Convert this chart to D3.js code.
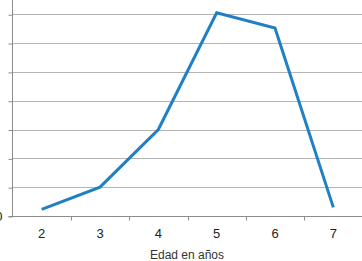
<!DOCTYPE html>
<html>
<head>
<meta charset="utf-8">
<script src="https://cdn.jsdelivr.net/npm/d3@7"></script>
<style>
  body { margin: 0; background: #fff; }
  svg { display: block; font-family: "Liberation Sans", Arial, sans-serif; }
</style>
</head>
<body>
<svg id="chart" width="362" height="261"></svg>
<script>
// data
const ages = ['2', '3', '4', '5', '6', '7'];
const values = [0.23, 1, 3, 7.05, 6.52, 0.3];
const yTicks = [0, 1, 2, 3, 4, 5, 6, 7, 8];
const xTitle = 'Edad en años';

const svg = d3.select('#chart');
const width = 362;

const x = d3.scaleBand()
  .domain(ages)
  .range([12.5, 362.5]);

const y = d3.scaleLinear()
  .domain([0, 8])
  .range([216, -14.6]);

// gridlines
svg.append('g')
  .selectAll('line')
  .data(yTicks.filter(d => d > 0))
  .join('line')
  .attr('x1', 12.5)
  .attr('x2', width)
  .attr('y1', d => Math.round(y(d)) + 0.5)
  .attr('y2', d => Math.round(y(d)) + 0.5)
  .attr('stroke', '#b4b4b4')
  .attr('stroke-width', 1);

// y axis
const yAxis = svg.append('g')
  .attr('transform', 'translate(12.5,0.5)')
  .call(d3.axisLeft(y).tickValues(yTicks).tickSize(4).tickPadding(6).tickFormat(d => d === 0 ? '0' : ''));
yAxis.select('.domain').attr('stroke', '#8c8c8c');
yAxis.selectAll('.tick line').attr('stroke', '#8c8c8c');
yAxis.selectAll('.tick text').attr('font-size', 13).attr('fill', '#222').attr('font-family', 'Liberation Sans, Arial, sans-serif');
yAxis.select('.domain').attr('d', `M-4,${y(8)}H0V${y(0)}`);

// x axis with ticks at band edges
const xAxisG = svg.append('g')
  .attr('transform', `translate(0,${Math.round(y(0)) + 0.5})`);
xAxisG.append('line')
  .attr('x1', 8.5).attr('x2', width)
  .attr('stroke', '#8c8c8c');
xAxisG.selectAll('.edge')
  .data(ages.slice(1))
  .join('line')
  .attr('class', 'edge')
  .attr('x1', d => Math.round(x(d)) + 0.5)
  .attr('x2', d => Math.round(x(d)) + 0.5)
  .attr('y1', 0).attr('y2', 4)
  .attr('stroke', '#8c8c8c');
xAxisG.selectAll('.lbl')
  .data(ages)
  .join('text')
  .attr('class', 'lbl')
  .attr('x', d => x(d) + x.bandwidth() / 2)
  .attr('y', 21.5)
  .attr('text-anchor', 'middle')
  .attr('font-size', 13)
  .attr('fill', '#222')
  .text(d => d);

// axis title
svg.append('text')
  .attr('x', 187)
  .attr('y', 259)
  .attr('text-anchor', 'middle')
  .attr('font-size', 12)
  .attr('fill', '#333')
  .text(xTitle);

// line
const line = d3.line()
  .x((d, i) => x(ages[i]) + x.bandwidth() / 2)
  .y(d => y(d));

svg.append('path')
  .datum(values)
  .attr('d', line)
  .attr('fill', 'none')
  .attr('stroke', '#1f80c4')
  .attr('stroke-width', 3)
  .attr('stroke-linejoin', 'miter');
</script>
</body>
</html>
